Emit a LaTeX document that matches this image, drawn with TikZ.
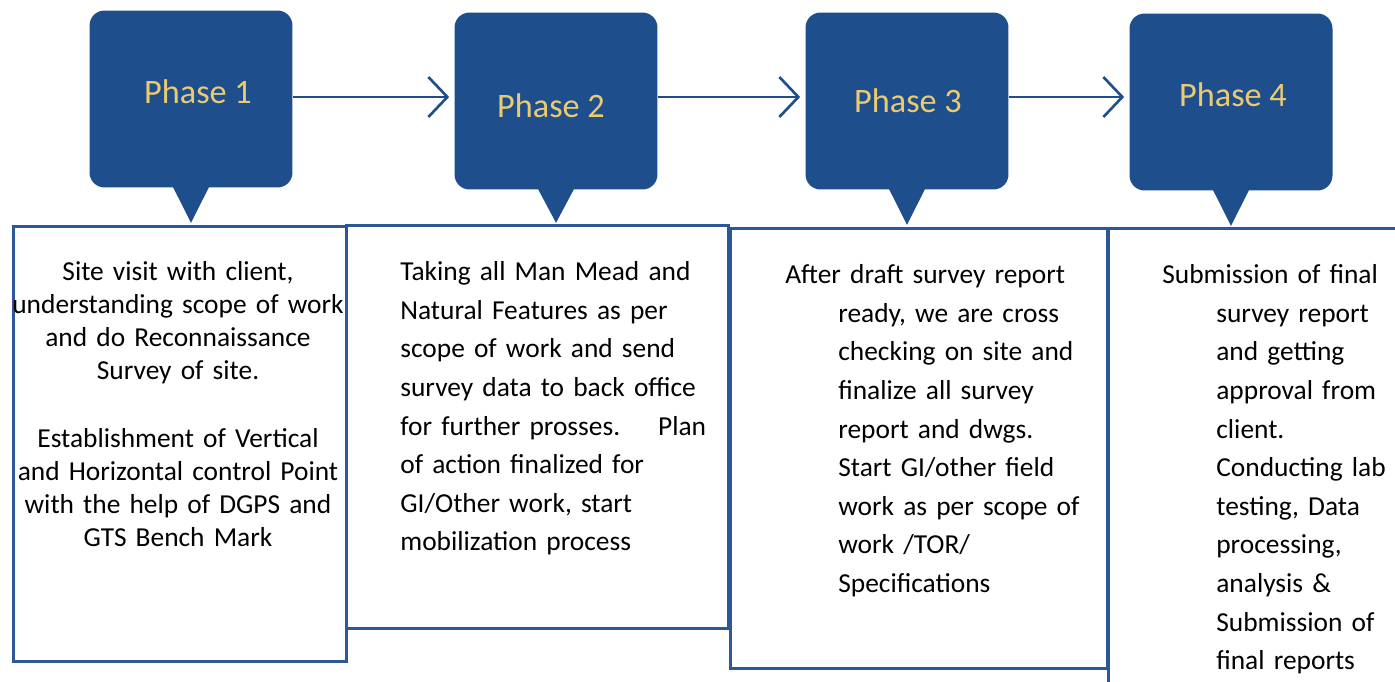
\documentclass[tikz,border=0pt]{standalone}
\usepackage{fontspec}
\setmainfont{Carlito}
\usepackage{tikz}
\usetikzlibrary{calc,arrows.meta}
\definecolor{phaseblue}{HTML}{1F4E8C}
\definecolor{edgeblue}{HTML}{2C5898}
\definecolor{phasegold}{HTML}{EACB72}

\begin{document}
\begin{tikzpicture}[x=0.02cm,y=-0.02cm,
  phase/.style={fill=phaseblue, rounded corners=0.3cm, minimum width=4.06cm, minimum height=3.54cm, inner sep=0pt},
  phaselabel/.style={inner sep=0pt, text=phasegold, font=\fontsize{19.5}{23}\selectfont},
  stepbox/.style={draw=edgeblue, line width=1.7pt, inner sep=0pt, anchor=north west},
  flow/.style={draw=phaseblue, line width=1.5pt, shorten >=0.1cm, -{Straight Barb[length=0.38cm,width=0.8cm]}},
  body/.style={inner sep=0pt, text width=#1, font=\fontsize{15.6}{22}\selectfont}]
\useasboundingbox (0,0) rectangle (1395,681);
% lower boxes
\node[stepbox, minimum width=6.66cm, minimum height=8.7cm] (b1) at (12,225) {};
\node[stepbox, minimum width=7.64cm, minimum height=8.06cm] (b2) at (345,224) {};
\node[stepbox, minimum width=7.54cm, minimum height=8.8cm] (b3) at (729,227) {};
\node[stepbox, minimum width=6.2cm, minimum height=9.6cm] (b4) at (1107,227) {};
% phases
\node[phase] (p1) at (191,99) {};
\node[phase] (p2) at (556,101) {};
\node[phase] (p3) at (907,101) {};
\node[phase] (p4) at (1231,102) {};
\fill[phaseblue] ([xshift=-0.37cm,yshift=1pt]p1.south) -- ([xshift=0.37cm,yshift=1pt]p1.south) -- ([yshift=-0.7cm]p1.south) -- cycle;
\fill[phaseblue] ([xshift=-0.37cm,yshift=1pt]p2.south) -- ([xshift=0.37cm,yshift=1pt]p2.south) -- ([yshift=-0.66cm]p2.south) -- cycle;
\fill[phaseblue] ([xshift=-0.37cm,yshift=1pt]p3.south) -- ([xshift=0.37cm,yshift=1pt]p3.south) -- ([yshift=-0.7cm]p3.south) -- cycle;
\fill[phaseblue] ([xshift=-0.37cm,yshift=1pt]p4.south) -- ([xshift=0.37cm,yshift=1pt]p4.south) -- ([yshift=-0.7cm]p4.south) -- cycle;
\node[phaselabel] (l1) at (198,92) {Phase 1};
\node[phaselabel] (l2) at (551,106) {Phase 2};
\node[phaselabel] (l3) at (908,101) {Phase 3};
\node[phaselabel] (l4) at (1233,95) {Phase 4};
\draw[flow] ([yshift=0.04cm]p1.east) -- ([yshift=0.04cm]p1.east -| p2.west);
\draw[flow] ([yshift=0.08cm]p2.east) -- ([yshift=0.08cm]p2.east -| p3.west);
\draw[flow] ([yshift=0.08cm]p3.east) -- ([yshift=0.08cm]p3.east -| p4.west);
% texts
\node[body=7cm, align=center, anchor=north, font=\fontsize{15.6}{18.8}\selectfont] (t1) at (178,261)
  {Site visit with client,\\ understanding scope of work\\ and do Reconnaissance\\ Survey of site.\\[0.7cm]
   Establishment of Vertical\\ and Horizontal control Point\\ with the help of DGPS and\\ GTS Bench Mark};
\node[body=7cm, align=left, anchor=north west] (t2) at (400,261)
  {Taking all Man Mead and\\ Natural Features as per\\ scope of work and send\\ survey data to back office\\
   for further prosses.\hspace{0.76cm}Plan\\ of action finalized for\\ GI/Other work, start\\ mobilization process};
\node[body=6.6cm, align=left, anchor=north west] (t3) at (785,264)
  {\leftskip=1.06cm\hspace*{-1.06cm}After draft survey report\\ ready, we are cross\\ checking on site and\\ finalize all survey\\
   report and dwgs.\\ Start GI/other field\\ work as per scope of\\ work /TOR/\\ Specifications\par};
\node[body=4.8cm, align=left, anchor=north west] (t4) at (1162,264)
  {\leftskip=1.08cm\hspace*{-1.08cm}Submission of final\\ survey report\\ and getting\\ approval from\\ client.\\
   Conducting lab\\ testing, Data\\ processing,\\ analysis \&\\ Submission of\\ final reports\par};
\end{tikzpicture}
\end{document}
